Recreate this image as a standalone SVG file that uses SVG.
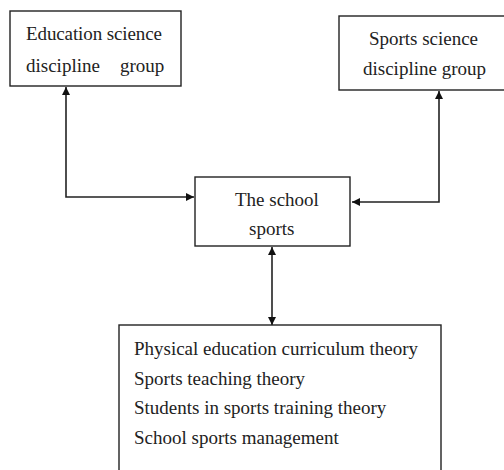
<svg xmlns="http://www.w3.org/2000/svg" width="504" height="470" viewBox="0 0 504 470">
<style>
.box{fill:#fff;stroke:#222;stroke-width:1.4}
.t{font-family:"Liberation Serif","Times New Roman",serif;font-size:19px;fill:#222}
.c{fill:none;stroke:#222;stroke-width:1.6}
</style>
<defs>
<marker id="ah" viewBox="0 0 10 10" refX="10" refY="5" markerWidth="8" markerHeight="8" markerUnits="userSpaceOnUse" orient="auto-start-reverse">
<path d="M0,0 L10,5 L0,10 z" fill="#111"/>
</marker>
</defs>
<rect width="504" height="470" fill="#fff"/>
<g id="connectors">
<path class="c" d="M66,87 V197 H194" marker-start="url(#ah)" marker-end="url(#ah)"/>
<path class="c" d="M439,91 V202 H352" marker-start="url(#ah)" marker-end="url(#ah)"/>
<path class="c" d="M272,247 V325" marker-start="url(#ah)" marker-end="url(#ah)"/>
</g>
<g id="edu">
<rect class="box" x="10" y="11" width="171" height="75"/>
<text class="t" x="26" y="40" textLength="136">Education science</text>
<text class="t" x="26" y="72">discipline</text>
<text class="t" x="120" y="72">group</text>
</g>
<g id="sports-sci">
<rect class="box" x="339" y="16" width="170" height="74"/>
<text class="t" x="369" y="45" textLength="109">Sports science</text>
<text class="t" x="363" y="75">discipline group</text>
</g>
<g id="school">
<rect class="box" x="195" y="177" width="155" height="69"/>
<text class="t" x="235" y="206">The school</text>
<text class="t" x="249" y="235">sports</text>
</g>
<g id="theory">
<rect class="box" x="119" y="325" width="322" height="150"/>
<text class="t" x="134" y="355" textLength="284">Physical education curriculum theory</text>
<text class="t" x="134" y="385">Sports teaching theory</text>
<text class="t" x="134" y="414">Students in sports training theory</text>
<text class="t" x="134" y="444">School sports management</text>
</g>
</svg>
